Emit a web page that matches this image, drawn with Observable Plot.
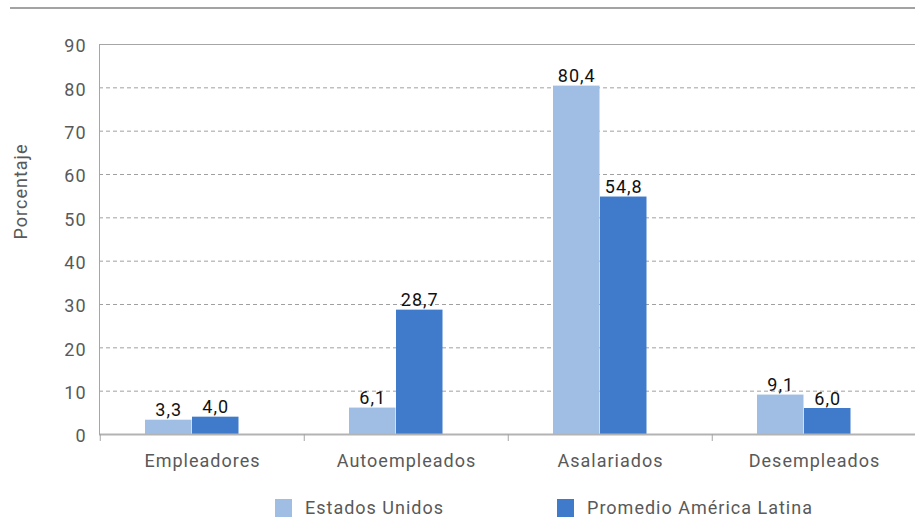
<!DOCTYPE html>
<html>
<head>
<meta charset="utf-8">
<script src="https://cdn.jsdelivr.net/npm/d3@7"></script>
<script src="https://cdn.jsdelivr.net/npm/@observablehq/plot@0.6"></script>
<style>
  html, body { margin: 0; padding: 0; background: #fff; }
  #wrap { position: relative; width: 915px; height: 521px; overflow: hidden; font-family: Roboto, sans-serif; }
  #topline { position: absolute; left: 10px; top: 7px; width: 905px; height: 2px; background: #a3a3a3; }
  #legend { position: absolute; left: 275px; top: 497px; display: flex; align-items: center; gap: 113px;
            font-family: Roboto, sans-serif; font-size: 18px; letter-spacing: 1px; color: #595959; }
  .item { display: flex; align-items: center; gap: 13px; }
  .sw { width: 17px; height: 18px; }
</style>
</head>
<body>
<div id="wrap"><div id="chart"></div><div id="topline"></div><div id="legend"></div></div>
<script>
const categories = ["Empleadores", "Autoempleados", "Asalariados", "Desempleados"];
const estadosUnidos = [3.3, 6.1, 80.4, 9.1];
const americaLatina = [4.0, 28.7, 54.8, 6.0];
const seriesNames = ["Estados Unidos", "Promedio América Latina"];
const seriesColors = ["#a0bee3", "#3f7bca"];
const yTicks = [0, 10, 20, 30, 40, 50, 60, 70, 80, 90];

const data = categories.map((c, i) => ({cat: c, us: estadosUnidos[i], al: americaLatina[i]}));
const fmt = v => v.toFixed(1).replace(".", ",");

const bw = (917 - 99) / categories.length;

const chart = Plot.plot({
  width: 915,
  height: 480,
  marginTop: 44,
  marginBottom: 46,
  marginLeft: 99,
  marginRight: 0,
  style: {fontFamily: "Roboto, sans-serif", fontSize: "18px", letterSpacing: "1px", color: "#595959", background: "transparent"},
  x: {domain: categories, range: [99, 917], padding: 0},
  y: {domain: [0, 90]},
  marks: [
    Plot.ruleY(yTicks.filter(d => d > 0 && d < 90), {stroke: "#a0a0a0", strokeDasharray: "4,3", strokeWidth: 1}),
    Plot.ruleY([90], {stroke: "#a6a6a6", strokeWidth: 1}),
    Plot.barY(data, {x: "cat", y: "us", fill: seriesColors[0], insetLeft: 45, insetRight: bw - 92}),
    Plot.barY(data, {x: "cat", y: "al", fill: seriesColors[1], insetLeft: 92, insetRight: bw - 139}),
    Plot.ruleY([0], {stroke: "#b3b3b3", strokeWidth: 2}),
    Plot.frame({anchor: "left", stroke: "#a6a6a6"}),
    Plot.text(data, {x: "cat", y: "us", text: d => fmt(d.us), dx: 68.5 - bw / 2, dy: -4, lineAnchor: "bottom", fill: "#111"}),
    Plot.text(data, {x: "cat", y: "al", text: d => fmt(d.al), dx: 115.5 - bw / 2, dy: -4, lineAnchor: "bottom", fill: "#111"}),
    Plot.axisY({ticks: yTicks, tickSize: 0, tickPadding: 13, label: null, dy: 2}),
    Plot.axisX({tickSize: 0, tickPadding: 20, label: null}),
    Plot.axisX({tickSize: 7, tickFormat: () => "", dx: -bw / 2, label: null, stroke: "#a6a6a6"}),
    Plot.text(["Porcentaje"], {frameAnchor: "left", textAnchor: "middle", rotate: -90, dx: -78, dy: -48, fill: "#595959"})
  ]
});
document.getElementById("chart").appendChild(chart);

const legend = document.getElementById("legend");
seriesNames.forEach((n, i) => {
  const item = document.createElement("div");
  item.className = "item";
  const sw = document.createElement("div");
  sw.className = "sw";
  sw.style.background = seriesColors[i];
  const t = document.createElement("span");
  t.textContent = n;
  item.appendChild(sw);
  item.appendChild(t);
  legend.appendChild(item);
});
</script>
</body>
</html>
